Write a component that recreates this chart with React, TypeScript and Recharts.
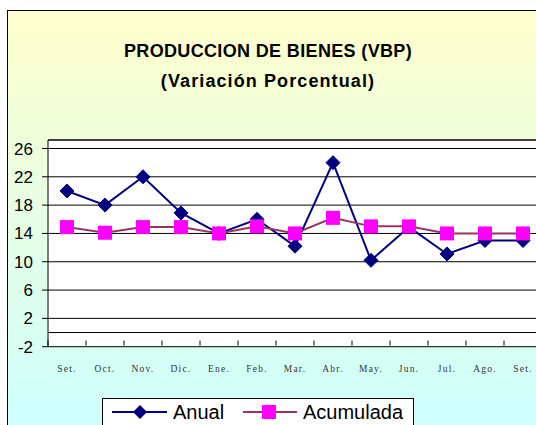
import {
  LineChart,
  Line,
  XAxis,
  YAxis,
  CartesianGrid,
  ReferenceLine,
} from "recharts";

const months = ["Set.", "Oct.", "Nov.", "Dic.", "Ene.", "Feb.", "Mar.", "Abr.", "May.", "Jun.", "Jul.", "Ago.", "Set."];
const anual = [20, 18, 22, 16.9, 14, 16, 12.2, 24, 10.2, 14.9, 11.1, 13, 13];
const acumulada = [14.9, 14.1, 14.9, 14.9, 14, 15, 14, 16.2, 15, 15, 14, 14, 14];
const yTicks = [-2, 2, 6, 10, 14, 18, 22, 26];

const data = months.map((name, i) => ({ name, anual: anual[i], acumulada: acumulada[i] }));

const Y_MIN = -2;
const Y_MAX = 27.2;
const PLOT_TOP = 129;
const PLOT_H = 206.7;
const BAND = 38;

const Diamond = (props: any) => {
  const { cx, cy, index } = props;
  if (cx == null || cy == null) return null;
  const r = 7;
  return (
    <path
      key={`d-${index}`}
      d={`M${cx},${cy - r}L${cx + r},${cy}L${cx},${cy + r}L${cx - r},${cy}Z`}
      fill="#000080"
      stroke="#000080"
    />
  );
};

const Square = (props: any) => {
  const { cx, cy, index } = props;
  if (cx == null || cy == null) return null;
  const s = 7;
  return (
    <rect key={`s-${index}`} x={cx - s} y={cy - s} width={s * 2} height={s * 2} fill="#FF00FF" />
  );
};

const MonthTick = (props: any) => {
  const { x, y, payload } = props;
  // axis crosses at 0, so the category ticks hang from the zero line
  const zeroY = y - ((0 - Y_MIN) / (Y_MAX - Y_MIN)) * PLOT_H;
  return (
    <g>
      <line x1={x - BAND / 2} x2={x - BAND / 2} y1={zeroY} y2={zeroY + 5} stroke="#000" />
      <text
        x={x}
        y={y + 17}
        textAnchor="middle"
        fontFamily="'Liberation Serif', 'Times New Roman', serif"
        fontSize={9.5}
        letterSpacing={1.2}
        fill="#333"
      >
        {payload.value}
      </text>
    </g>
  );
};

export default function App() {
  return (
    <div
      style={{
        position: "fixed",
        left: 7,
        top: 10,
        width: 529,
        height: 415,
        overflow: "hidden",
      }}
    >
      <div
        style={{
          position: "relative",
          width: 540,
          height: 430,
          border: "1px solid #000",
          background: "linear-gradient(#FFFFCC, #CCFFFF)",
          fontFamily: "'Liberation Sans', Arial, sans-serif",
        }}
      >
        <div
          style={{
            position: "absolute",
            left: 0,
            width: 520,
            top: 25,
            textAlign: "center",
            fontWeight: "bold",
            fontSize: 18,
            lineHeight: "30px",
            color: "#000",
          }}
        >
          <div style={{ letterSpacing: 0.35 }}>PRODUCCION DE BIENES (VBP)</div>
          <div style={{ letterSpacing: 1.1 }}>(Variación Porcentual)</div>
        </div>
        <LineChart
          width={534}
          height={420}
          data={data}
          margin={{ top: PLOT_TOP, right: 0, left: 0, bottom: 420 - PLOT_TOP - PLOT_H - 30 }}
        >
          <CartesianGrid vertical={false} stroke="#000" fill="#fff" fillOpacity={1} />
          <XAxis
            dataKey="name"
            padding={{ left: BAND / 2, right: BAND / 2 }}
            height={30}
            axisLine={false}
            tickLine={false}
            tick={<MonthTick />}
            interval={0}
          />
          <YAxis
            type="number"
            domain={[Y_MIN, Y_MAX]}
            ticks={yTicks}
            width={40}
            interval={0}
            axisLine={{ stroke: "#000" }}
            tickLine={{ stroke: "#000" }}
            tickSize={6}
            tickMargin={9}
            tick={{ fill: "#000", fontSize: 17, fontFamily: "'Liberation Sans', Arial, sans-serif" }}
          />
          <ReferenceLine y={Y_MAX} stroke="#000" />
          <ReferenceLine y={0} stroke="#000" />
          <Line
            dataKey="anual"
            stroke="#000080"
            strokeWidth={2}
            dot={<Diamond />}
            activeDot={false}
            isAnimationActive={false}
          />
          <Line
            dataKey="acumulada"
            stroke="#993366"
            strokeWidth={2}
            dot={<Square />}
            activeDot={false}
            isAnimationActive={false}
          />
        </LineChart>
        <div
          style={{
            position: "absolute",
            left: 94,
            top: 387,
            width: 310,
            height: 40,
            border: "1px solid #000",
            background: "#fff",
          }}
        >
          <svg width={310} height={30} style={{ position: "absolute", left: 0, top: 0 }}>
            <line x1={9} x2={64} y1={13} y2={13} stroke="#000080" strokeWidth={2} />
            <path d="M37,6L44,13L37,20L30,13Z" fill="#000080" />
            <text x={70} y={20} fontSize={20} fontFamily="'Liberation Sans', Arial, sans-serif">
              Anual
            </text>
            <line x1={140} x2={194} y1={13} y2={13} stroke="#993366" strokeWidth={2} />
            <rect x={159} y={6} width={14} height={14} fill="#FF00FF" />
            <text x={200} y={20} fontSize={20} fontFamily="'Liberation Sans', Arial, sans-serif">
              Acumulada
            </text>
          </svg>
        </div>
      </div>
    </div>
  );
}
